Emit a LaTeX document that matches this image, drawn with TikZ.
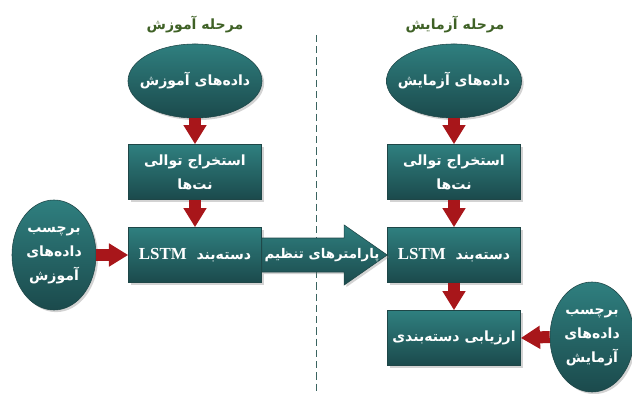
\documentclass[tikz,border=0pt]{standalone}
\usepackage{fontspec}
\newfontfamily\farsi[Script=Arabic]{DejaVu Sans}
\newfontfamily\latinbf{Liberation Serif}
\TeXXeTstate=1
\usetikzlibrary{shapes.geometric,arrows.meta,shadows,calc}
\definecolor{tealtop}{HTML}{2F7F7F}
\definecolor{tealbot}{HTML}{1B4A4C}
\definecolor{tealline}{HTML}{1E4647}
\definecolor{arrowred}{HTML}{A8161A}
\definecolor{titlegreen}{HTML}{3F6126}
\definecolor{divgray}{HTML}{3A6460}
\newcommand{\fa}[1]{{\farsi\bfseries\beginR #1\endR}}
\newcommand{\lstmtxt}{\beginL{\latinbf\bfseries\fontsize{12}{14}\selectfont LSTM}\endL}
\begin{document}
\begin{tikzpicture}[
  x=0.025cm, y=-0.025cm,
  tealfill/.style={
    draw=tealline,
    line width=0.4pt,
    top color=tealtop,
    bottom color=tealbot,
    text=white,
    align=center,
    font=\farsi\bfseries\fontsize{10}{15}\selectfont,
    drop shadow={shadow xshift=1.5pt, shadow yshift=-1.5pt, opacity=0.35}
  },
  stagebox/.style={tealfill, minimum width=3.325cm, minimum height=1.375cm, inner xsep=1pt},
  dataset/.style={tealfill, ellipse, minimum width=3.35cm, minimum height=1.85cm, inner xsep=-6pt, inner ysep=0pt},
  labelset/.style={tealfill, ellipse, minimum width=2.1cm, minimum height=2.75cm, inner sep=0pt},
  redarrow/.style={draw=arrowred, line width=0.3cm, -{Triangle[width=0.55cm, length=0.48cm]}},
  phase/.style={text=titlegreen, font=\farsi\bfseries},
  divider/.style={draw=divgray, line width=0.6pt, dash pattern=on 5pt off 3pt}
]
\useasboundingbox (0,0) rectangle (632,394);

% phase titles and divider
\node[phase] (phaseL) at (195,25) {\fa{مرحله آموزش}};
\node[phase] (phaseR) at (455,25) {\fa{مرحله آزمایش}};
\coordinate (divtop) at (316,35);
\coordinate (divbot) at (316,392);
\draw[divider] (divtop) -- (divbot);

% training column
\node[dataset] (dataL) at (195,81) {\fa{داده‌های آموزش}};
\node[stagebox] (featL) at (195,172) {\fa{استخراج توالی}\\[2pt]\fa{نت‌ها}};
\node[stagebox] (lstmL) at (195,255) {\fa{دسته‌بند\hspace{0.7em}\lstmtxt}};
\node[labelset] (labL) at (54,255) {\fa{برچسب}\\[2pt]\fa{داده‌های}\\[2pt]\fa{آموزش}};

% test column
\node[dataset] (dataR) at (454,81) {\fa{داده‌های آزمایش}};
\node[stagebox] (featR) at (454,172) {\fa{استخراج توالی}\\[2pt]\fa{نت‌ها}};
\node[stagebox] (lstmR) at (454,255) {\fa{دسته‌بند\hspace{0.7em}\lstmtxt}};
\node[stagebox] (evalR) at (454,338) {\fa{ارزیابی دسته‌بندی}};
\node[labelset] (labR) at (592,337) {\fa{برچسب}\\[2pt]\fa{داده‌های}\\[2pt]\fa{آزمایش}};

% tuned parameters block arrow
\path[tealfill] ($(lstmL.east)+(0,-17)$) -- ($(lstmR.west)+(-43,-17)$)
  -- ($(lstmR.west)+(-43,-30)$) -- (lstmR.west)
  -- ($(lstmR.west)+(-43,30)$) -- ($(lstmR.west)+(-43,17)$)
  -- ($(lstmL.east)+(0,17)$) -- cycle;
\node[text=white, font=\farsi\bfseries\fontsize{9.5}{11}\selectfont] (param) at ($(lstmL.east)!0.48!(lstmR.west)$) {\fa{پارامترهای تنظیم}};

% red flow arrows
\draw[redarrow] (dataL.south) -- (featL.north);
\draw[redarrow] (featL.south) -- (lstmL.north);
\draw[redarrow] (labL.east) -- (lstmL.west);
\draw[redarrow] (dataR.south) -- (featR.north);
\draw[redarrow] (featR.south) -- (lstmR.north);
\draw[redarrow] (lstmR.south) -- (evalR.north);
\draw[redarrow] (labR.west) -- (evalR.east);
\end{tikzpicture}
\end{document}
